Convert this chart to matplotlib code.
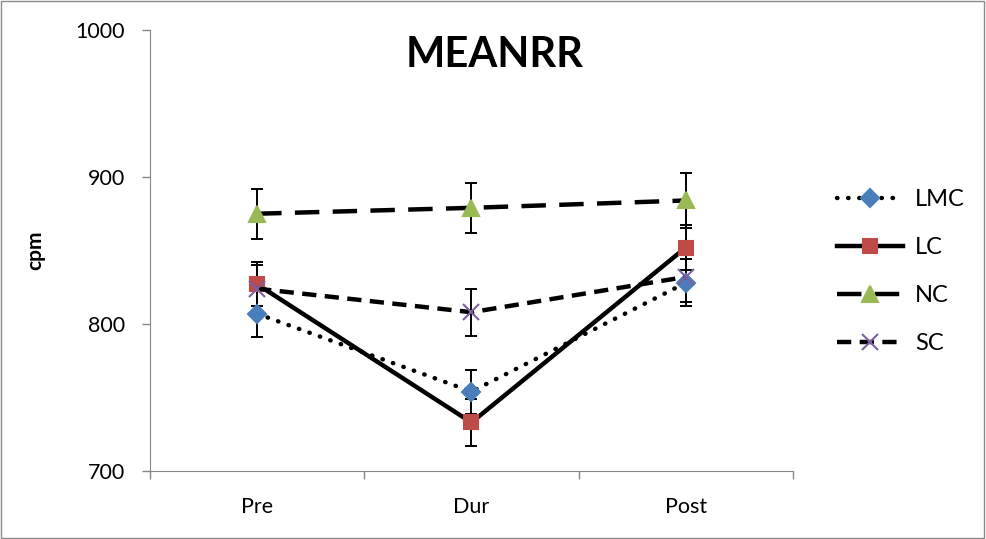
import matplotlib
matplotlib.use("Agg")
from matplotlib import pyplot as plt
from matplotlib.patches import Rectangle

# dati
phases = ["Pre", "Dur", "Post"]
series_names = ["LMC", "LC", "NC", "SC"]
lmc = [807, 754, 828]
lc = [827, 733, 852]
nc = [875, 879, 884]
sc = [824, 808, 832]
lmc_err = [16, 15, 16]
lc_err = [15, 16, 15]
nc_err = [17, 17, 19]
sc_err = [16, 16, 17]

plt.rcParams['font.family'] = ['Lato', 'DejaVu Sans']

fig = plt.figure(figsize=(9.86, 5.39), dpi=100)
ax = fig.add_axes([0.1521, 0.1262, 0.6521, 0.8182])

x = list(range(len(phases)))

styles = [
    (lmc, lmc_err, dict(linestyle=(0, (0.1, 2.4)), dash_capstyle='round', marker='D', color='#4a7ebb', ms=9)),
    (lc, lc_err, dict(linestyle='-', marker='s', color='#be4b48', ms=10)),
    (nc, nc_err, dict(linestyle=(0, (5.5, 3)), marker='^', color='#98b954', ms=11)),
    (sc, sc_err, dict(linestyle=(0, (3.2, 1.9)), marker='x', color='#7d60a0', ms=11)),
]

for (vals, errs, st), name in zip(styles, series_names):
    ax.errorbar(x, vals, yerr=errs, fmt='none', ecolor='black', elinewidth=1.4,
                capsize=4.5, capthick=1.4, zorder=2)
    col = st.pop('color')
    ms = st.pop('ms')
    ax.plot(x, vals, color='black', lw=3.2, markerfacecolor=col, markeredgecolor=col,
            markersize=ms, markeredgewidth=1.5, label=name, zorder=3, **st)

ax.set_xlim(-0.5, 2.5)
ax.set_ylim(700, 1000)
ax.set_yticks([700, 800, 900, 1000])
ax.tick_params(axis='y', labelsize=15.5, length=6, width=1, color='#868686', pad=12)
ax.set_xticks([-0.5, 0.5, 1.5, 2.5])
ax.set_xticklabels([])
ax.set_xticks(x, minor=True)
ax.set_xticklabels(phases, minor=True)
ax.tick_params(axis='x', which='major', length=6, width=1, color='#868686')
ax.tick_params(axis='x', which='minor', length=0, labelsize=15.5, pad=19)

for s in ['top', 'right']:
    ax.spines[s].set_visible(False)
for s in ['left', 'bottom']:
    ax.spines[s].set_color('#868686')

ax.set_ylabel('cpm', fontsize=15, fontweight='bold', labelpad=22)
fig.text(0.502, 0.898, 'MEANRR', fontsize=30, fontweight='bold', ha='center', va='center')

ax.legend(loc='center left', bbox_to_anchor=(1.036, 0.452), frameon=False, fontsize=17,
          handlelength=2.8, labelspacing=1.15, handletextpad=0.5)

fig.patches.append(Rectangle((0.001, 0.002), 0.997, 0.996, transform=fig.transFigure,
                             fill=False, edgecolor='#8a8a8a', lw=1))

fig.savefig('out.png', dpi=100)
